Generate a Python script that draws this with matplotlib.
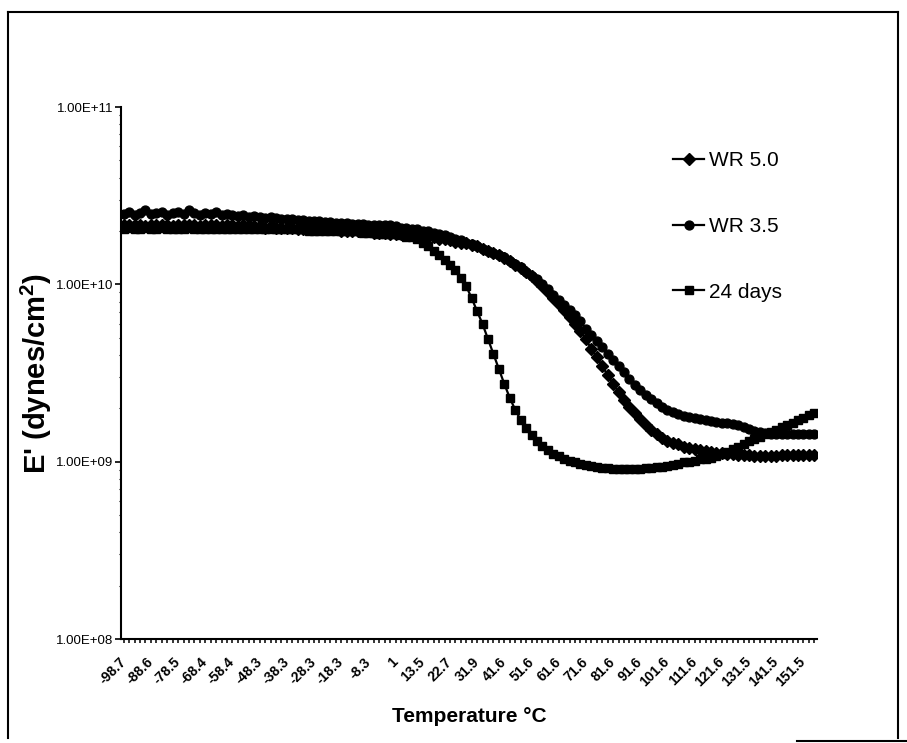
import numpy as np
import matplotlib.pyplot as plt
from matplotlib.lines import Line2D
from matplotlib.ticker import FixedLocator, LogLocator, NullFormatter

plt.rcParams['font.family'] = ['Liberation Sans', 'DejaVu Sans']
plt.rcParams['mathtext.fontset'] = 'custom'
plt.rcParams['mathtext.rm'] = 'Liberation Sans'
plt.rcParams['mathtext.bf'] = 'Liberation Sans:bold'

# category labels (every 5th temperature point is labelled)
tick_labels = ["-98.7", "-88.6", "-78.5", "-68.4", "-58.4", "-48.3", "-38.3", "-28.3",
               "-18.3", "-8.3", "1", "13.5", "22.7", "31.9", "41.6", "51.6", "61.6",
               "71.6", "81.6", "91.6", "101.6", "111.6", "121.6", "131.5", "141.5", "151.5"]
label_step = 5

# E' values in units of 1e9 dynes/cm2, one value per temperature point
wr50 = [21.7, 21.5, 21.7, 21.5, 21.2, 21.7, 21.5, 21.5, 21.7, 21.2,
        21.5, 21.7, 21.5, 21.5, 21.2, 21.5, 21.7, 21.5, 21.2, 21.5,
        21.5, 21.2, 21.5, 21.2, 21.2, 21.2, 20.9, 21.2, 20.9, 20.9,
        20.9, 20.9, 20.6, 20.6, 20.6, 20.6, 20.4, 20.4, 20.4, 20.4,
        20.1, 20.1, 20.1, 19.9, 19.9, 19.9, 19.6, 19.6, 19.6, 19.3,
        19.3, 19.1, 19.1, 18.9, 18.9, 18.6, 18.6, 18.4, 18.1, 17.9,
        17.7, 17.4, 17.2, 17.0, 16.6, 16.4, 15.9, 15.5, 15.1, 14.6,
        14.0, 13.5, 12.9, 12.3, 11.7, 11.1, 10.4, 9.74, 9.02, 8.34,
        7.72, 7.14, 6.53, 5.96, 5.44, 4.91, 4.31, 3.89, 3.46, 3.08,
        2.74, 2.47, 2.23, 2.04, 1.88, 1.74, 1.61, 1.51, 1.44, 1.36,
        1.31, 1.28, 1.25, 1.21, 1.20, 1.18, 1.17, 1.15, 1.14, 1.12,
        1.12, 1.11, 1.11, 1.09, 1.09, 1.09, 1.08, 1.08, 1.08, 1.08,
        1.08, 1.09, 1.09, 1.09, 1.09, 1.09, 1.09, 1.09]

wr35 = [25.0, 25.7, 24.7, 25.4, 26.1, 25.0, 25.4, 25.7, 24.7, 25.4,
        25.7, 25.0, 26.1, 25.4, 24.7, 25.4, 25.0, 25.7, 24.7, 25.0,
        24.7, 24.4, 24.7, 24.1, 24.4, 24.1, 23.8, 24.1, 23.8, 23.5,
        23.5, 23.5, 23.2, 23.2, 22.9, 22.9, 22.9, 22.6, 22.6, 22.3,
        22.3, 22.3, 22.0, 22.0, 22.0, 21.7, 21.7, 21.7, 21.5, 21.5,
        21.2, 20.9, 20.9, 20.6, 20.4, 20.1, 19.9, 19.6, 19.3, 18.9,
        18.6, 18.1, 17.7, 17.2, 16.8, 16.4, 15.9, 15.5, 15.1, 14.7,
        14.2, 13.6, 13.1, 12.5, 11.8, 11.2, 10.7, 10.0, 9.37, 8.68,
        8.13, 7.62, 7.14, 6.70, 6.20, 5.59, 5.17, 4.78, 4.43, 4.04,
        3.74, 3.46, 3.20, 2.93, 2.71, 2.54, 2.38, 2.26, 2.15, 2.04,
        1.96, 1.91, 1.86, 1.81, 1.79, 1.77, 1.74, 1.72, 1.70, 1.68,
        1.66, 1.66, 1.64, 1.61, 1.57, 1.53, 1.49, 1.47, 1.46, 1.44,
        1.44, 1.44, 1.44, 1.44, 1.44, 1.44, 1.44, 1.44]

days24 = [20.6, 20.9, 20.6, 20.6, 20.9, 20.6, 20.6, 20.9, 20.6, 20.6,
          20.6, 20.6, 20.9, 20.6, 20.6, 20.6, 20.6, 20.6, 20.6, 20.6,
          20.6, 20.6, 20.6, 20.6, 20.4, 20.6, 20.4, 20.4, 20.4, 20.4,
          20.4, 20.4, 20.4, 20.4, 20.1, 20.1, 20.1, 20.1, 20.1, 20.1,
          19.9, 19.9, 19.9, 19.9, 19.6, 19.6, 19.6, 19.3, 19.3, 19.1,
          19.1, 18.9, 18.6, 18.4, 17.9, 17.2, 16.4, 15.5, 14.7, 13.8,
          12.9, 12.0, 10.9, 9.74, 8.34, 7.05, 5.96, 4.91, 4.04, 3.33,
          2.74, 2.29, 1.96, 1.72, 1.55, 1.42, 1.31, 1.23, 1.17, 1.11,
          1.07, 1.04, 1.01, 0.99, 0.974, 0.962, 0.95, 0.937, 0.925, 0.925,
          0.913, 0.913, 0.913, 0.913, 0.913, 0.913, 0.925, 0.925, 0.937, 0.937,
          0.95, 0.962, 0.974, 0.99, 1.00, 1.01, 1.03, 1.04, 1.05, 1.08,
          1.11, 1.14, 1.18, 1.21, 1.26, 1.30, 1.35, 1.38, 1.44, 1.47,
          1.51, 1.57, 1.61, 1.66, 1.72, 1.77, 1.84, 1.88]

ytick_vals = [1e8, 1e9, 1e10, 1e11]
ytick_labels = ["1.00E+08", "1.00E+09", "1.00E+10", "1.00E+11"]

W, H = 907, 743
fig = plt.figure(figsize=(W / 100, H / 100), dpi=100)
ax_l, ax_r, ax_t, ax_b = 121, 817, 107, 639
ax = fig.add_axes([ax_l / W, 1 - ax_b / H, (ax_r - ax_l) / W, (ax_b - ax_t) / H])

x = np.arange(len(wr50))
ax.plot(x, np.array(wr50) * 1e9, color='black', lw=1.6, marker='D', ms=5.8,
        label='WR 5.0')
ax.plot(x, np.array(wr35) * 1e9, color='black', lw=1.6, marker='o', ms=6.4,
        label='WR 3.5')
ax.plot(x, np.array(days24) * 1e9, color='black', lw=1.6, marker='s', ms=5.8,
        label='24 days')

ax.set_yscale('log')
ax.set_ylim(1e8, 1e11)
ax.set_xlim(-0.5, len(x) - 0.5)

ax.yaxis.set_major_locator(FixedLocator(ytick_vals))
ax.set_yticklabels(ytick_labels, fontsize=9.5)
ax.yaxis.set_minor_locator(LogLocator(base=10, subs=np.arange(2, 10)))
ax.yaxis.set_minor_formatter(NullFormatter())
ax.tick_params(axis='y', which='major', direction='out', length=4, width=1.2, pad=1.5)
ax.tick_params(axis='y', which='minor', direction='out', length=1.5, width=0.8)

ax.xaxis.set_major_locator(FixedLocator(np.arange(0, len(x), label_step)[:len(tick_labels)]))
ax.xaxis.set_minor_locator(FixedLocator(x))
ax.set_xticklabels(tick_labels, rotation=45, ha='right', va='center',
                   rotation_mode='anchor', fontsize=10, fontweight='bold')
ax.tick_params(axis='x', which='both', direction='out', length=3, width=1.1, pad=12)

for s in ['top', 'right']:
    ax.spines[s].set_visible(False)
for s in ['left', 'bottom']:
    ax.spines[s].set_linewidth(1.5)

ax_h = ax_b - ax_t
ax.set_xlabel('Temperature \u00b0C', fontsize=15, fontweight='bold')
ax.xaxis.set_label_coords(0.5, -(716 - ax_b) / ax_h)
ax.xaxis.label.set_va('center')
ax.set_ylabel("E' (dynes/cm$^{\\mathbf{2}}$)", fontsize=21, fontweight='bold')
ax.yaxis.set_label_coords(-(ax_l - 36) / (ax_r - ax_l), 0.5)
ax.yaxis.label.set_va('center')

fig.legend(loc='upper left', bbox_to_anchor=(673 / W, 1 - 151 / H), frameon=False,
           fontsize=15, handlelength=1.5, handletextpad=0.25, labelspacing=2.25,
           borderpad=0, borderaxespad=0, numpoints=1)

# outer frame of the pasted chart
frame = [((8, 12), (898, 12)), ((8, 12), (8, 738)), ((898, 12), (898, 738)),
         ((797, 741), (907, 741))]
for (x0, y0), (x1, y1) in frame:
    fig.add_artist(Line2D([x0 / W, x1 / W], [1 - y0 / H, 1 - y1 / H],
                          transform=fig.transFigure, color='black', lw=1.5))

fig.savefig('out.png', dpi=100)
